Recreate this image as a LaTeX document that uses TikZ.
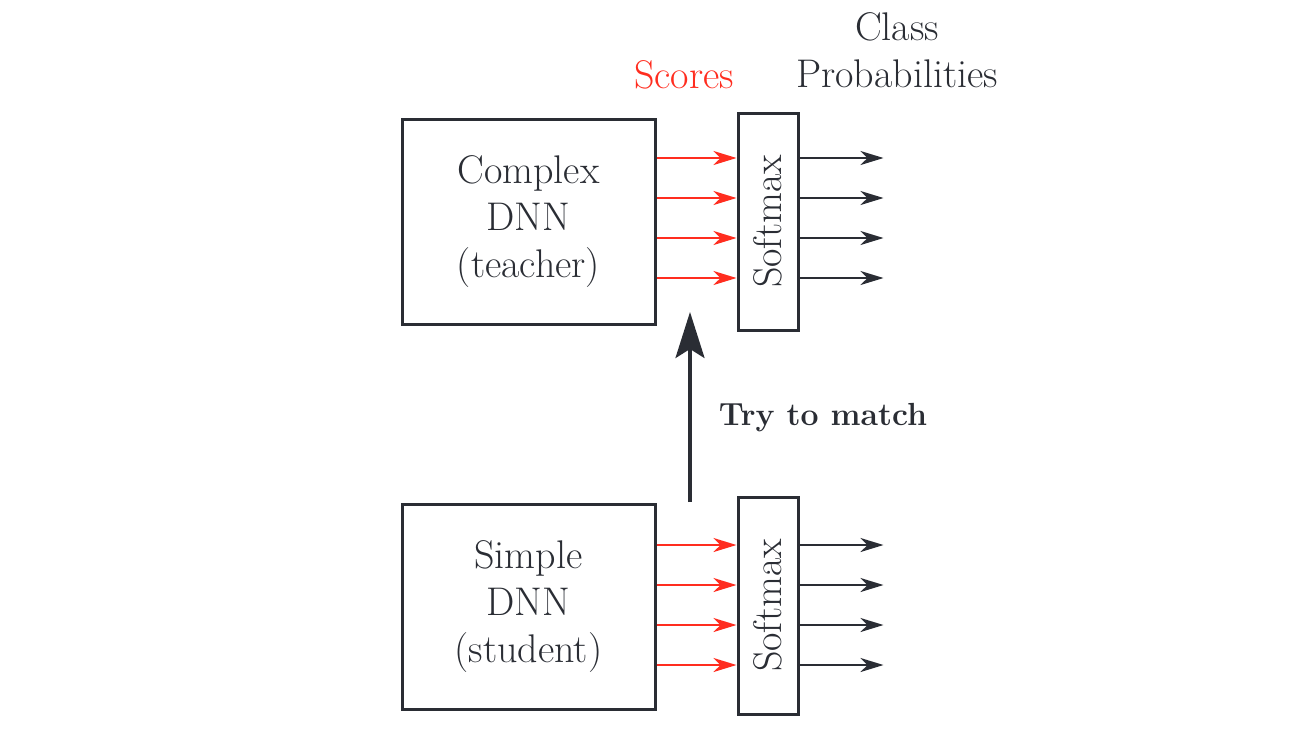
\documentclass[tikz,border=0pt]{standalone}
\usetikzlibrary{arrows.meta}
\definecolor{ink}{HTML}{2A2D34}
\definecolor{scorered}{HTML}{FF2D1F}
\begin{document}
\begin{tikzpicture}[x=0.5pt,y=-0.5pt,
  txt/.style={font=\fontsize{20}{23.5}\selectfont, text=ink, align=center},
  dnnbox/.style={draw=ink, line width=1.5pt, minimum width=126.5pt, minimum height=102.5pt, inner sep=0pt, txt},
  smbox/.style={draw=ink, line width=1.5pt, minimum width=30pt, minimum height=108.5pt, inner sep=0pt, txt},
  scorearrow/.style={draw=scorered, line width=1pt, -{Stealth[length=11.5pt,width=7pt,inset=3.5pt]}},
  probarrow/.style={draw=ink, line width=1pt, -{Stealth[length=11.5pt,width=7pt,inset=3.5pt]}},
  bigarrow/.style={draw=ink, line width=1.6pt, -{Stealth[length=23pt,width=14.5pt,inset=4.5pt]}}
]
\useasboundingbox (0,0) rectangle (1309,735);
% top row
\node[dnnbox] (teacher) at (528.5,221.5) {Complex\\DNN\\(teacher)};
\node[smbox] (smt) at (768,221.5) {\rotatebox{90}{Softmax}};
% bottom row
\node[dnnbox] (student) at (528.5,606.5) {Simple\\DNN\\(student)};
\node[smbox] (sms) at (768,605.5) {\rotatebox{90}{Softmax}};
% arrows top
\foreach \y in {158,198,238,278}{
  \draw[scorearrow] (teacher.east |- 0,\y) -- (smt.west |- 0,\y);
  \draw[probarrow] (smt.east |- 0,\y) -- ++(84,0);
}
% arrows bottom
\foreach \y in {545,585,625,665}{
  \draw[scorearrow] (student.east |- 0,\y) -- (sms.west |- 0,\y);
  \draw[probarrow] (sms.east |- 0,\y) -- ++(84,0);
}
% labels
\node[txt, text=scorered] (scores) at (684,75) {Scores};
\node[txt] (classprob) at (897,50) {Class\\Probabilities};
% try to match
\coordinate (ms) at (690,502);
\coordinate (mt) at (690,312);
\draw[bigarrow] (ms) -- (mt);
\node[font=\fontsize{16}{20}\selectfont\bfseries, text=ink] (match) at (823,418) {Try to match};
\end{tikzpicture}
\end{document}
